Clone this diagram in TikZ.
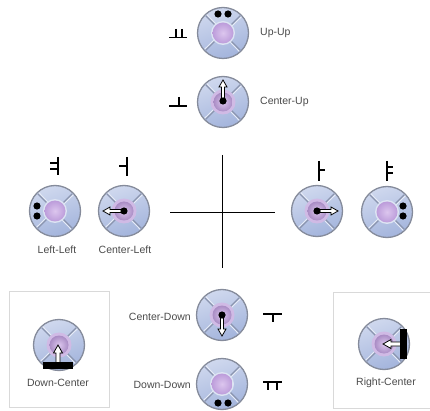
\documentclass[tikz,border=0pt]{standalone}
\usepackage{fontspec}
\setmainfont{Liberation Sans}
\usetikzlibrary{calc}
\usetikzlibrary{arrows.meta}
\definecolor{rimgray}{HTML}{858B9B}
\definecolor{padlight}{HTML}{CFD8EE}
\definecolor{paddark}{HTML}{A3B4DC}
\definecolor{spokegray}{HTML}{8A94AE}
\definecolor{discpale}{HTML}{DCC6EE}
\definecolor{discdeep}{HTML}{BC9CDA}
\definecolor{labelgray}{HTML}{4A4A4A}
\tikzset{
  padlabel/.style={font=\fontsize{10.5}{12}\selectfont,text=labelgray,inner sep=0pt},
  tickmark/.style={draw=black,line width=1.2pt},
  framebox/.style={draw=black!15,line width=.7pt},
  axisline/.style={draw=black,line width=.9pt},
  stud/.style={fill=black,draw=none},
  pad/.pic={
    \fill[white] (0,0) circle (26.5);
    \draw[rimgray,line width=1.3pt,top color=padlight,bottom color=paddark,shading angle=20] (0,0) circle (25.5);
    \foreach \ang in {45,135,225,315} {
      \draw[white!50!padlight,line width=1pt] (\ang+7:10) -- (\ang+3.5:24.5);
      \draw[spokegray,line width=1.2pt] (\ang:10) -- (\ang:24.5);
    }
    \fill[white!30!padlight] (0,0) circle (12);
    \shade[inner color=discpale,outer color=discdeep] (0,0) circle (10.5);
  },
  pressedpad/.pic={
    \pic {pad};
    \fill[discdeep!70!white] (0,0) circle (12.5);
    \shade[inner color=discpale,outer color=discdeep!90!black] (0,0) circle (9.5);
  },
  whitearrow/.pic={
    \draw[black,line width=.8pt,fill=white,line join=miter]
      (0,-1.5) -- (14,-1.5) -- (14,-4) -- (21,0) -- (14,4) -- (14,1.5) -- (0,1.5) -- cycle;
    \fill[black] (0,0) circle (3.6);
  },
  bararrow/.pic={
    \draw[black,line width=.8pt,fill=white,line join=miter]
      (21,-2) -- (8,-2) -- (8,-4.5) -- (0,0) -- (8,4.5) -- (8,2) -- (21,2) -- cycle;
    \fill[black] (17,-15) rectangle (24,15);
  },
}
\begin{document}
\begin{tikzpicture}[x=1pt,y=-1pt]
  \useasboundingbox (0,0) rectangle (430,411);
  % boxes round the two centre pads
  \draw[framebox] (9,291) rectangle (109,407);
  \draw[framebox] (333,292) rectangle (430,408);
  % axes
  \coordinate (axisT) at (222,155);
  \coordinate (axisB) at (222,268);
  \coordinate (axisL) at (170,212);
  \coordinate (axisR) at (275,212);
  \draw[axisline] (axisT) -- (axisB);
  \draw[axisline] (axisL) -- (axisR);
  % pads
  \pic at (223,33) {pad};
  \pic at (223,102) {pressedpad};
  \pic at (55,211) {pad};
  \pic at (124,211) {pressedpad};
  \pic at (317,211) {pressedpad};
  \pic at (387,212) {pad};
  \pic at (222,315) {pressedpad};
  \pic at (222,384) {pad};
  \pic at (59,345) {pressedpad};
  \pic at (384,344) {pressedpad};
  % arrows on the pressed pads
  \pic[rotate=90] at (223,101) {whitearrow};
  \pic[rotate=180] at (124,211) {whitearrow};
  \pic at (317,211) {whitearrow};
  \pic[rotate=-90] at (222,315) {whitearrow};
  \pic[rotate=-90] at (58,345) {bararrow};
  \pic at (383,344) {bararrow};
  % two studs on the outer pads
  \foreach \sx/\sy in {218/14,228/14,37/206,37/216,403/206,403/216,218/403,228/403} {
    \fill[stud] (\sx,\sy) circle (3.6);
  }
  % tick symbols
  \draw[tickmark] (169,37.5) -- (187,37.5) (176,29) -- (176,37.5) (182,29) -- (182,37.5);
  \draw[tickmark] (169,106) -- (187,106) (179,97) -- (179,106);
  \draw[tickmark] (58,157) -- (58,175) (50,163) -- (58,163) (50,169) -- (58,169);
  \draw[tickmark] (127,157) -- (127,176) (119,166) -- (127,166);
  \draw[tickmark] (319,161) -- (319,181) (319,170) -- (325,170);
  \draw[tickmark] (387,161) -- (387,181) (387,167) -- (393,167) (387,173) -- (393,173);
  \draw[tickmark] (263,314) -- (282,314) (273,314) -- (273,322);
  \draw[tickmark] (263,382) -- (282,382) (268,382) -- (268,390) (277,382) -- (277,390);
  % labels
  \node[padlabel,anchor=west] (upup) at (260,33) {Up-Up};
  \node[padlabel,anchor=west] (centerup) at (260,102) {Center-Up};
  \node[padlabel] (leftleft) at (57,250) {Left-Left};
  \node[padlabel] (centerleft) at (125,250) {Center-Left};
  \node[padlabel,anchor=east] (centerdown) at (191,317) {Center-Down};
  \node[padlabel,anchor=east] (downdown) at (191,385) {Down-Down};
  \node[padlabel] (downcenter) at (58,383) {Down-Center};
  \node[padlabel] (rightcenter) at (386,383) {Right-Center};
\end{tikzpicture}
\end{document}
